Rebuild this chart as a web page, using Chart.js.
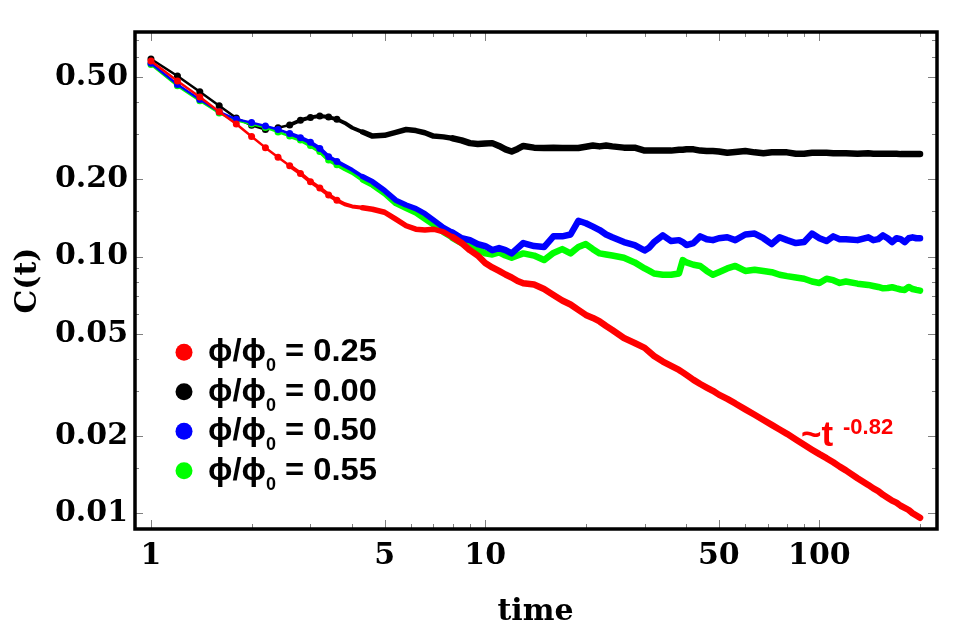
<!DOCTYPE html>
<html><head><meta charset="utf-8">
<script src="https://cdn.jsdelivr.net/npm/chart.js@4.4.0/dist/chart.umd.min.js"></script>
<style>html,body{margin:0;padding:0;background:#fff;}canvas{display:block;}</style>
</head><body>
<canvas id="c" width="957" height="636"></canvas>
<script>
// time grid (shared by all series)
const times = [1,1.2,1.4,1.6,1.8,2,2.2,2.4,2.6,2.8,3,3.2,3.4,3.6,3.8,4,4.3,4.6,5,5.4,5.8,6.2,6.6,7,7.5,8,8.5,9,9.5,10,10.5,11,11.5,12,12.5,13,14,15,16,17,18,19,20,21,22,23,24,26,28,30,31,32,34,36,38,39,40,42,44,46,48,50,53,56,60,64,68,72,76,80,85,90,95,100,105,110,115,120,130,140,145,150,155,160,165,170,175,180,185,190,195,200];

// phi/phi0 = 0.25 (red)
const c025 = [0.579,0.484,0.419,0.367,0.329,0.294,0.266,0.244,0.226,0.211,0.196,0.185,0.174,0.166,0.160,0.157,0.155,0.153,0.149,0.140,0.132,0.128,0.127,0.128,0.125,0.119,0.113,0.106,0.101,0.0945,0.0908,0.088,0.0852,0.083,0.0804,0.0788,0.0779,0.0748,0.0709,0.0675,0.0651,0.0620,0.0593,0.0577,0.0559,0.0537,0.0518,0.0482,0.0461,0.0441,0.0425,0.0410,0.0390,0.0375,0.0362,0.0354,0.0346,0.0331,0.0319,0.0309,0.0300,0.0290,0.0279,0.0268,0.0254,0.0242,0.0231,0.0221,0.0212,0.0204,0.0194,0.0185,0.0177,0.0170,0.0164,0.0158,0.0152,0.0147,0.0137,0.0129,0.0125,0.0122,0.0118,0.0115,0.0112,0.0110,0.0107,0.0105,0.0103,0.0100,0.0098,0.0096];

// phi/phi0 = 0.00 (black)
const c000 = [0.589,0.506,0.439,0.387,0.347,0.325,0.313,0.318,0.326,0.340,0.349,0.353,0.350,0.343,0.332,0.318,0.306,0.295,0.297,0.305,0.313,0.310,0.304,0.295,0.293,0.289,0.284,0.277,0.275,0.276,0.277,0.270,0.262,0.257,0.263,0.270,0.266,0.265,0.266,0.265,0.265,0.265,0.268,0.271,0.269,0.271,0.269,0.266,0.266,0.259,0.259,0.259,0.259,0.259,0.261,0.261,0.262,0.262,0.259,0.258,0.258,0.257,0.254,0.256,0.258,0.255,0.253,0.255,0.255,0.255,0.252,0.252,0.254,0.254,0.254,0.253,0.253,0.253,0.252,0.253,0.252,0.252,0.252,0.252,0.252,0.252,0.251,0.251,0.251,0.251,0.251,0.251];

// phi/phi0 = 0.50 (blue)
const c050 = [0.567,0.469,0.410,0.367,0.343,0.333,0.323,0.313,0.302,0.291,0.279,0.264,0.245,0.235,0.226,0.218,0.205,0.196,0.181,0.166,0.159,0.154,0.147,0.139,0.130,0.124,0.118,0.116,0.112,0.110,0.106,0.108,0.106,0.103,0.108,0.113,0.110,0.109,0.120,0.120,0.122,0.138,0.135,0.131,0.127,0.122,0.119,0.114,0.111,0.1057,0.1086,0.114,0.121,0.115,0.116,0.114,0.111,0.113,0.120,0.117,0.116,0.118,0.119,0.116,0.122,0.123,0.118,0.112,0.119,0.116,0.113,0.114,0.123,0.118,0.115,0.120,0.117,0.117,0.116,0.119,0.116,0.117,0.121,0.118,0.114,0.118,0.117,0.114,0.118,0.119,0.118,0.118];

// phi/phi0 = 0.55 (green)
const c055 = [0.561,0.463,0.405,0.363,0.340,0.329,0.319,0.306,0.295,0.285,0.271,0.257,0.238,0.228,0.219,0.212,0.199,0.190,0.176,0.161,0.154,0.148,0.140,0.133,0.124,0.118,0.113,0.111,0.107,0.103,0.102,0.104,0.101,0.099,0.101,0.103,0.101,0.097,0.1034,0.107,0.103,0.109,0.112,0.107,0.103,0.102,0.101,0.099,0.095,0.090,0.088,0.086,0.085,0.085,0.086,0.097,0.095,0.093,0.092,0.088,0.085,0.087,0.090,0.092,0.088,0.089,0.088,0.087,0.085,0.084,0.083,0.082,0.080,0.079,0.082,0.081,0.079,0.080,0.0785,0.0776,0.0769,0.0762,0.0753,0.0755,0.0760,0.0752,0.0745,0.0742,0.0762,0.0748,0.0742,0.0737];

const legendValues = ['0.25','0.00','0.50','0.55'];
const legendColors = ['#ff0000','#000000','#0000ff','#00ff00'];
const xTickValues = [1,5,10,50,100];
const xTickLabels = ['1','5','10','50','100'];
const xMinorTicks = [2,3,4,6,7,8,9,20,30,40,60,70,80,90,200];
const yTickValues = [0.01,0.02,0.05,0.1,0.2,0.5];
const yTickLabels = ['0.01','0.02','0.05','0.10','0.20','0.50'];
const yMinorTicks = [0.015,0.03,0.04,0.06,0.07,0.08,0.09,0.15,0.3,0.4,0.6,0.7];
const xTitle = 'time';
const yTitle = 'C(t)';
const fitLabel = '~t';
const fitExponent = '-0.82';

function widthFor(t){ return t < 2.5 ? 2.5 : t < 4.2 ? 4 : t < 8 ? 5.5 : 6.5; }
function makeDataset(vals, color, order){
  return {
    data: times.map((t,i)=>({x:t, y:vals[i]})),
    borderColor: color, backgroundColor: color, order,
    borderWidth: 6.5,
    borderJoinStyle:'round', borderCapStyle:'round',
    pointRadius: ctx => (ctx.raw && ctx.raw.x <= 3.6) ? 3.5 : 0,
    pointBorderWidth: 0, pointHoverRadius: 0,
    tension: 0, fill: false,
    segment: { borderWidth: ctx => widthFor(ctx.p0.parsed.x) }
  };
}

const serif = '"DejaVu Serif", serif';
const sans = '"Liberation Sans", Arial, sans-serif';

// draw text stretched horizontally to a target width
function fitText(ctx, text, x, y, targetW){
  const w = ctx.measureText(text).width;
  const sx = targetW / w;
  ctx.save(); ctx.translate(x, y); ctx.scale(sx, 1); ctx.fillText(text, 0, 0); ctx.restore();
}

const framePlugin = {
  id: 'frame',
  afterDatasetsDraw(chart){
    const {ctx, chartArea: a, scales:{x, y}} = chart;
    ctx.save();
    ctx.strokeStyle = '#808080'; ctx.lineWidth = 1;
    ctx.beginPath();
    const tickX = (v, len) => { const px = Math.round(x.getPixelForValue(v)) + 0.5;
      ctx.moveTo(px, a.bottom); ctx.lineTo(px, a.bottom - len);
      ctx.moveTo(px, a.top); ctx.lineTo(px, a.top + len); };
    const tickY = (v, len) => { const py = Math.round(y.getPixelForValue(v)) + 0.5;
      ctx.moveTo(a.left, py); ctx.lineTo(a.left + len, py);
      ctx.moveTo(a.right, py); ctx.lineTo(a.right - len, py); };
    xTickValues.forEach(v => tickX(v, 9));
    xMinorTicks.forEach(v => tickX(v, 5));
    yTickValues.forEach(v => tickY(v, 9));
    yMinorTicks.forEach(v => tickY(v, 5));
    ctx.stroke();
    ctx.strokeStyle = '#000'; ctx.lineWidth = 3.5;
    ctx.strokeRect(a.left + 1, a.top, a.right - a.left - 1, a.bottom - a.top);
    ctx.restore();
  },
  afterDraw(chart){
    const {ctx} = chart;
    ctx.save();
    legendValues.forEach((val, i) => {
      const cy = 352.3 + i * 39.5;
      ctx.fillStyle = legendColors[i];
      ctx.beginPath(); ctx.arc(184, cy, 8.5, 0, Math.PI*2); ctx.fill();
      ctx.fillStyle = '#000';
      ctx.textBaseline = 'alphabetic'; ctx.textAlign = 'left';
      ctx.font = 'bold 31px ' + sans;
      fitText(ctx, 'ϕ/ϕ', 208, cy + 9, 58);
      ctx.font = 'bold 18px ' + sans;
      ctx.fillText('0', 266, cy + 19);
      ctx.font = 'bold 31px ' + sans;
      fitText(ctx, '= ' + val, 285, cy + 9, 92);
    });
    ctx.fillStyle = '#ff0000';
    ctx.font = 'bold 35px ' + sans;
    ctx.fillText(fitLabel, 801, 446);
    ctx.font = 'bold 22px ' + sans;
    ctx.fillText(fitExponent, 843, 434);
    ctx.restore();
  }
};

new Chart(document.getElementById('c'), {
  type: 'line',
  data: { datasets: [
    Object.assign(makeDataset(c025, '#ff0000', 0), {label: 'ϕ/ϕ0 = 0.25'}),
    Object.assign(makeDataset(c000, '#000000', 3), {label: 'ϕ/ϕ0 = 0.00'}),
    Object.assign(makeDataset(c050, '#0000ff', 1), {label: 'ϕ/ϕ0 = 0.50'}),
    Object.assign(makeDataset(c055, '#00ff00', 2), {label: 'ϕ/ϕ0 = 0.55'})
  ]},
  options: {
    responsive: false, animation: false, devicePixelRatio: 1,
    layout: { padding: { top: 32, right: 20, left: 0, bottom: 0 } },
    plugins: { legend: { display: false }, tooltip: { enabled: false } },
    scales: {
      x: {
        type: 'logarithmic', min: 0.8896, max: 224.8, bounds: 'data',
        grid: { display: false, drawTicks: false }, border: { display: false },
        afterBuildTicks: s => { s.ticks = xTickValues.map(v => ({value: v})); },
        afterFit: s => { s.height = 107; },
        ticks: { autoSkip: false, maxRotation: 0, minRotation: 0, padding: 9, color: '#000',
          font: { family: serif, size: 30, weight: 'bold' },
          callback: v => { const i = xTickValues.indexOf(v); return i >= 0 ? xTickLabels[i] : ''; } },
        title: { display: true, text: xTitle, color: '#000', font: { family: serif, size: 30, weight: 'bold' }, padding: { top: 0, bottom: 6 } }
      },
      y: {
        type: 'logarithmic', min: 0.008685, max: 0.7508, bounds: 'data',
        grid: { display: false, drawTicks: false }, border: { display: false },
        afterBuildTicks: s => { s.ticks = yTickValues.map(v => ({value: v})); },
        afterFit: s => { s.width = 134; },
        ticks: { autoSkip: false, padding: 6, color: '#000',
          font: { family: serif, size: 30, weight: 'bold' },
          callback: v => { const i = yTickValues.indexOf(v); return i >= 0 ? yTickLabels[i] : ''; } },
        title: { display: true, text: yTitle, color: '#000', font: { family: serif, size: 30, weight: 'bold' }, padding: { top: 10, bottom: 0 } }
      }
    }
  },
  plugins: [framePlugin]
});
</script>
</body></html>
